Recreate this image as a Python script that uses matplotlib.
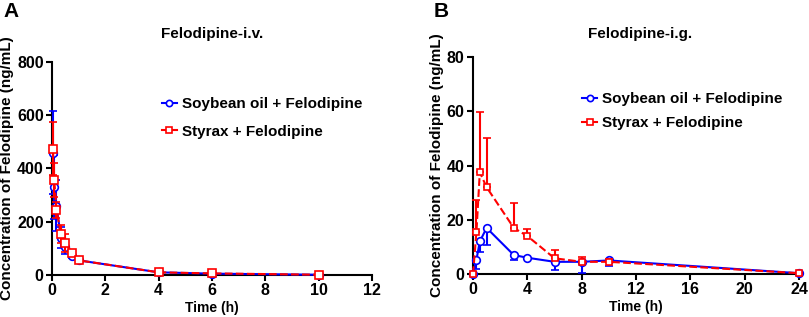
import numpy as np
import matplotlib.pyplot as plt
from matplotlib.lines import Line2D

plt.rcParams['font.family'] = ['Liberation Sans', 'DejaVu Sans']
plt.rcParams['font.weight'] = 'bold'

# panel A, i.v.
t_iv = [0.033, 0.083, 0.167, 0.333, 0.5, 0.75, 1, 4, 6, 10]
soy_iv = [460, 330, 260, 140, 105, 72, 55, 10, 5, 1]
soy_iv_sd = [155, 120, 95, 40, 25, 8, 5, 2, 1, 0.5]
sty_iv = [475, 357, 244, 154, 120, 83, 55, 10, 6, 1]
sty_iv_sd = [100, 65, 30, 35, 35, 10, 5, 2, 1, 0.5]

# panel B, i.g.
t_ig = [0, 0.25, 0.5, 1, 3, 4, 6, 8, 10, 24]
soy_ig = [0, 5.2, 12, 17, 7, 6, 4.5, 4.5, 5, 0.3]
soy_ig_sd = [0, 3.2, 4, 6.3, 2, 0.3, 3.2, 4.3, 2, 0]
sty_ig = [0, 15.5, 37.5, 32, 17, 14, 5.8, 4.5, 4.5, 0.3]
sty_ig_sd = [0, 11.7, 22.2, 18, 9, 2.7, 3.1, 1.7, 1, 0]

labels = ['Soybean oil + Felodipine', 'Styrax + Felodipine']
blue = '#0000ff'
red = '#ff0000'

fig = plt.figure(figsize=(8.09, 3.17), dpi=100)
axA = fig.add_axes([0.0643, 0.1325, 0.3956, 0.672])
axB = fig.add_axes([0.5847, 0.1356, 0.403, 0.6845])


def style(ax):
    for s in ['top', 'right']:
        ax.spines[s].set_visible(False)
    for s in ['left', 'bottom']:
        ax.spines[s].set_linewidth(1.5)
    ax.tick_params(width=1.5, length=4, labelsize=11.5, pad=2)
    for lab in ax.get_xticklabels() + ax.get_yticklabels():
        lab.set_fontweight('bold')


def leg_handles():
    return [Line2D([], [], color=blue, lw=1.5, marker='o', ms=4.5, mfc='white', mec=blue, mew=1.2),
            Line2D([], [], color=red, lw=1.5, marker='s', ms=4.5, mfc='white', mec=red, mew=1.2)]


# A
axA.errorbar(t_iv, soy_iv, yerr=soy_iv_sd, color=blue, lw=1.5, marker='o', ms=5.5,
             mfc='white', mec=blue, mew=1.2, capsize=3, elinewidth=1.5, capthick=1.5,
             clip_on=False, zorder=3)
axA.errorbar(t_iv, sty_iv, yerr=sty_iv_sd, color=red, lw=1.5, ls='--', marker='s', ms=5.5,
             mfc='white', mec=red, mew=1.2, capsize=3, elinewidth=1.5, capthick=1.5,
             clip_on=False, zorder=4)
axA.set_xlim(0, 12)
axA.set_ylim(0, 800)
axA.set_xticks(range(0, 13, 2))
axA.set_yticks(range(0, 801, 200))
axA.set_xlabel('Time (h)', fontsize=10, fontweight='bold', labelpad=2)
axA.set_ylabel('Concentration of Felodipine (ng/mL)', fontsize=11, fontweight='bold', labelpad=2)
style(axA)
axA.legend(leg_handles(), labels, loc='upper left', bbox_to_anchor=(0.30, 0.90), frameon=False,
           handlelength=1.0, handletextpad=0.3, labelspacing=0.9,
           prop={'weight': 'bold', 'size': 11})
fig.text(0.262, 0.88, 'Felodipine-i.v.', fontsize=11, fontweight='bold', ha='center')
fig.text(0.004, 0.945, 'A', fontsize=15, fontweight='bold')

# B
axB.errorbar(t_ig, soy_ig, yerr=[soy_ig_sd, np.zeros(len(soy_ig_sd))], color=blue, lw=1.5,
             marker='o', ms=5.5, mfc='white', mec=blue, mew=1.2, capsize=3, elinewidth=1.5,
             capthick=1.5, clip_on=False, zorder=3)
axB.errorbar(t_ig, sty_ig, yerr=[np.zeros(len(sty_ig_sd)), sty_ig_sd], color=red, lw=1.5,
             ls='--', marker='s', ms=5, mfc='white', mec=red, mew=1.2, capsize=3,
             elinewidth=1.5, capthick=1.5, clip_on=False, zorder=4)
axB.set_xlim(0, 24)
axB.set_ylim(0, 80)
axB.set_xticks(range(0, 25, 4))
axB.set_yticks(range(0, 81, 20))
axB.set_xlabel('Time (h)', fontsize=10, fontweight='bold', labelpad=2)
axB.set_ylabel('Concentration of Felodipine (ng/mL)', fontsize=11, fontweight='bold', labelpad=2)
style(axB)
axB.legend(leg_handles(), labels, loc='upper left', bbox_to_anchor=(0.292, 0.90), frameon=False,
           handlelength=1.0, handletextpad=0.3, labelspacing=0.65,
           prop={'weight': 'bold', 'size': 11})
fig.text(0.791, 0.88, 'Felodipine-i.g.', fontsize=11, fontweight='bold', ha='center')
fig.text(0.536, 0.945, 'B', fontsize=15, fontweight='bold')

fig.savefig('out.png', dpi=100)
